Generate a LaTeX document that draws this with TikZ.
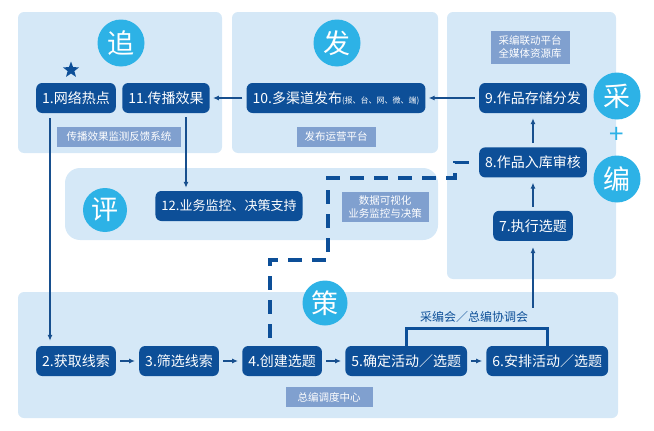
\documentclass[tikz,border=0pt]{standalone}
\usepackage{fontspec}
\setmainfont{Noto Sans CJK SC}
\usepackage{xcolor}
\usepackage{tikz}
\usetikzlibrary{arrows.meta,calc,positioning,shapes.geometric}
\definecolor{panelbg}{HTML}{D5E8F7}
\definecolor{stepblue}{HTML}{0D4F98}
\definecolor{roundblue}{HTML}{2DB2E6}
\definecolor{tagblue}{HTML}{80A0CF}
\definecolor{linkblue}{HTML}{174F8E}

\begin{document}
\begin{tikzpicture}[x=1pt,y=-1pt,>={Latex[length=6pt,width=5pt]},node distance=23pt]
      \tikzstyle{panel}=[fill=panelbg,rounded corners=6pt]
      \tikzstyle{stepbox}=[fill=stepblue,text=white,rounded corners=6pt,minimum height=30pt,inner xsep=6pt,font=\fontsize{14}{16}\selectfont]
      \tikzstyle{stagecirc}=[circle,fill=roundblue,text=white,minimum size=47pt,inner sep=0pt,font=\fontsize{27}{27}\selectfont]
      \tikzstyle{tagbox}=[fill=tagblue,text=white,inner sep=0pt,align=center,font=\fontsize{10.5}{13}\selectfont]
      \tikzstyle{flowline}=[->,draw=linkblue,line width=1.4pt]
      \useasboundingbox (0,0) rectangle (654,431);
      % background panels
      \path[panel] (18,12) rectangle (222,153);
      \path[panel] (232,12) rectangle (438,153);
      \path[panel] (447,12) rectangle (616,279);
      \path[panel,rounded corners=15pt] (65,168) rectangle (438,240);
      \path[panel] (18,292) rectangle (618,418);
      % stage circles
      \node[stagecirc] (czhui) at (121,43) {追};
      \node[stagecirc] (cfa) at (337,43) {发};
      \node[stagecirc] (ccai) at (617,96) {采};
      \node[text=roundblue,font=\fontsize{26}{26}\selectfont] (plus) at (617,135) {+};
      \node[stagecirc] (cbian) at (617,179) {编};
      \node[stagecirc,minimum size=44pt] (cping) at (105,210) {评};
      \node[stagecirc,minimum size=45pt] (cce) at (325,303) {策};
      \node[star,star points=5,star point ratio=2.4,fill=stepblue,minimum size=17pt,inner sep=0pt] (hot) at (71,70) {};
      % steps
      \node[stepbox] (n1) at (76,98) {1.网络热点};
      \node[stepbox] (n11) at (166,98) {11.传播效果};
      \node[stepbox] (n10) at (336,98) {10.多渠道发布{\fontsize{8}{10}\selectfont(报、台、网、微、端)}};
      \node[stepbox] (n9) at (533,98) {9.作品存储分发};
      \node[stepbox,below=34pt of n9] (n8) {8.作品入库审核};
      \node[stepbox,below=33pt of n8] (n7) {7.执行选题};
      \node[stepbox,font=\fontsize{13}{15}\selectfont] (n12) at (229,206) {12.业务监控、决策支持};
      \node[stepbox] (n2) at (76,361) {2.获取线索};
      \node[stepbox,right=of n2] (n3) {3.筛选线索};
      \node[stepbox,right=of n3] (n4) {4.创建选题};
      \node[stepbox,right=of n4] (n5) {5.确定活动／选题};
      \node[stepbox,right=19pt of n5] (n6) {6.安排活动／选题};
      % platform tags
      \node[tagbox,minimum width=124pt,minimum height=20pt] (tfeed) at (119,137) {传播效果监测反馈系统};
      \node[tagbox,minimum width=79pt,minimum height=20pt] (tpub) at (336,137) {发布运营平台};
      \node[tagbox,minimum width=79pt,minimum height=33pt] (tlib) at (530,47) {采编联动平台\\全媒体资源库};
      \node[tagbox,minimum width=87pt,minimum height=30pt] (tdata) at (385,207) {数据可视化\\业务监控与决策};
      \node[tagbox,minimum width=87pt,minimum height=20pt] (tdesk) at (329,397) {总编调度中心};
      \node[text=stepblue,font=\fontsize{12}{14}\selectfont] (meet) at (474,317) {采编会／总编协调会};
      % connectors
      \draw[flowline,shorten <=5pt,shorten >=5pt] ([xshift=-26pt]n1.south) -- ([xshift=-26pt]n2.north);
      \draw[flowline,shorten <=4pt,shorten >=3pt] ([xshift=20pt]n11.south) -- ([xshift=20pt]n11.south |- n12.north);
      \draw[flowline,shorten <=4pt,shorten >=3pt] (n10) -- (n11);
      \draw[flowline,shorten <=4pt,shorten >=3pt] (n9) -- (n10);
      \draw[flowline,shorten <=4pt,shorten >=5pt] (n8) -- (n9);
      \draw[flowline,shorten <=4pt,shorten >=5pt] (n7) -- (n8);
      \draw[flowline,shorten >=6pt] (meet.north -| n7) -- (n7.south);
      \foreach \a/\b in {n2/n3,n3/n4,n4/n5,n5/n6}
        \draw[flowline,shorten <=4pt,shorten >=4pt] (\a) -- (\b);
      \draw[stepblue,line width=3pt] (n5.north) -- ++(0,-17) -| (n6.north);
      \draw[stepblue,line width=3.5pt,dash pattern=on 14pt off 10pt] ([xshift=-12pt,yshift=8pt]n4.north) |- (328,260) |- (455,178) |- ([xshift=-7pt]n8.west);
    \end{tikzpicture}
\end{document}
